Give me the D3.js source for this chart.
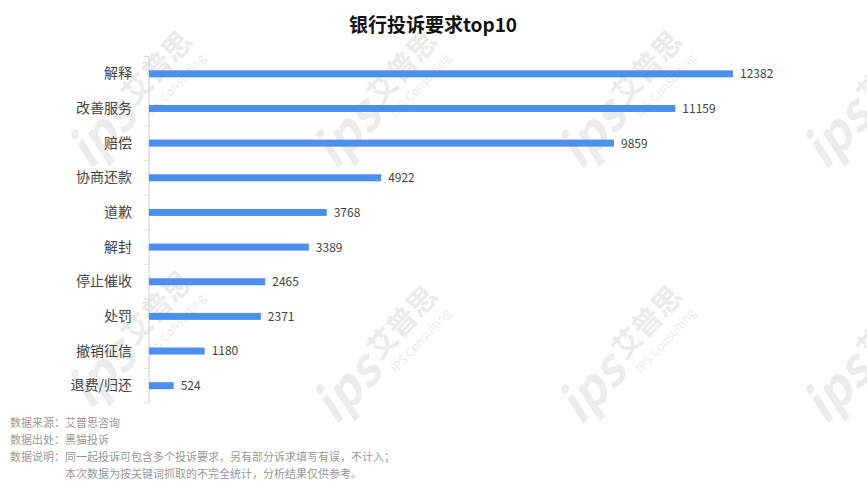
<!DOCTYPE html>
<html>
<head>
<meta charset="utf-8">
<script src="https://cdn.jsdelivr.net/npm/d3@7/dist/d3.min.js"></script>
<style>
  html, body { margin: 0; padding: 0; background: #fff; }
  svg { display: block; }
  text { font-family: "Noto Sans CJK SC", "Microsoft YaHei", sans-serif; }
</style>
</head>
<body>
<svg id="chart" width="867" height="494"></svg>
<script>
const categories = ["解释", "改善服务", "赔偿", "协商还款", "道歉", "解封", "停止催收", "处罚", "撤销征信", "退费/归还"];
const values = [12382, 11159, 9859, 4922, 3768, 3389, 2465, 2371, 1180, 524];
const titleText = "银行投诉要求top10";
const footLabels = ["数据来源：", "数据出处：", "数据说明：", ""];
const footTexts = ["艾普思咨询", "黑猫投诉", "同一起投诉可包含多个投诉要求，另有部分诉求填写有误，不计入；", "本次数据为按关键词抓取的不完全统计，分析结果仅供参考。"];
const watermarkAnchors = [[150, 90], [395, 90], [640, 90], [885, 90], [150, 330], [395, 345], [640, 345], [885, 345]];

const svg = d3.select("#chart");

// watermarks
const wm = svg.append("g").attr("class", "watermarks");
watermarkAnchors.forEach(([cx, cy]) => {
  const g = wm.append("g").attr("transform", `translate(${cx},${cy}) rotate(-47)`);
  g.append("text").attr("x", -100).attr("y", 12)
    .attr("font-size", 50).attr("font-style", "italic").attr("font-weight", "bold")
    .attr("font-family", "Arial, 'Liberation Sans', sans-serif")
    .attr("fill", "#ececec").text("ips");
  g.append("text").attr("x", -22).attr("y", 0)
    .attr("font-size", 29).attr("font-weight", "bold")
    .attr("fill", "#ebebeb").text("艾普思");
  g.append("text").attr("x", -20).attr("y", 20)
    .attr("font-size", 12)
    .attr("font-family", "Arial, 'Liberation Sans', sans-serif")
    .attr("fill", "#ededed").text("IPS Consulting");
});

// title
svg.append("text")
  .attr("x", 433).attr("y", 32)
  .attr("text-anchor", "middle")
  .attr("font-size", 19).attr("font-weight", "bold")
  .attr("fill", "#111")
  .text(titleText);

// scales
const x = d3.scaleLinear().domain([0, 12382]).range([149, 733]);
const y = d3.scaleBand().domain(categories).range([56.5, 403]).paddingInner(0).paddingOuter(0);
const barH = 7;

// axis line and ticks
const axisG = svg.append("g");
axisG.append("line")
  .attr("x1", 149).attr("x2", 149)
  .attr("y1", 56.5).attr("y2", 403)
  .attr("stroke", "#dcdcdc").attr("stroke-width", 1.5);
const bounds = categories.map(c => y(c)).concat([y(categories[categories.length - 1]) + y.bandwidth()]);
axisG.selectAll("line.tick").data(bounds).enter().append("line")
  .attr("class", "tick")
  .attr("x1", 144).attr("x2", 149)
  .attr("y1", d => d).attr("y2", d => d)
  .attr("stroke", "#dcdcdc").attr("stroke-width", 1);

// category labels via axis
const yAxis = d3.axisLeft(y).tickSize(0).tickPadding(0);
const ag = svg.append("g").attr("transform", "translate(132,0)").call(yAxis);
ag.select(".domain").remove();
ag.selectAll("text")
  .attr("font-size", 14)
  .attr("fill", "#444")
  .style("font-family", "'Noto Sans CJK SC', sans-serif");

// bars
svg.append("g").selectAll("rect").data(categories).enter().append("rect")
  .attr("x", x(0))
  .attr("y", (d) => y(d) + y.bandwidth() / 2 - barH / 2)
  .attr("width", (d, i) => x(values[i]) - x(0))
  .attr("height", barH)
  .attr("fill", "#4b8ff0");

// value labels
svg.append("g").selectAll("text").data(categories).enter().append("text")
  .attr("x", (d, i) => x(values[i]) + 7)
  .attr("y", (d) => y(d) + y.bandwidth() / 2)
  .attr("dy", "0.37em")
  .attr("font-size", 12)
  .attr("fill", "#444")
  .text((d, i) => values[i]);

// footer
const foot = svg.append("g");
footTexts.forEach((t, i) => {
  const by = 427 + i * 17;
  foot.append("text").attr("x", 10).attr("y", by)
    .attr("font-size", 11).attr("fill", "#9a9a9a").text(footLabels[i]);
  foot.append("text").attr("x", 65).attr("y", by)
    .attr("font-size", 11).attr("fill", "#9a9a9a").text(t);
});
</script>
</body>
</html>
